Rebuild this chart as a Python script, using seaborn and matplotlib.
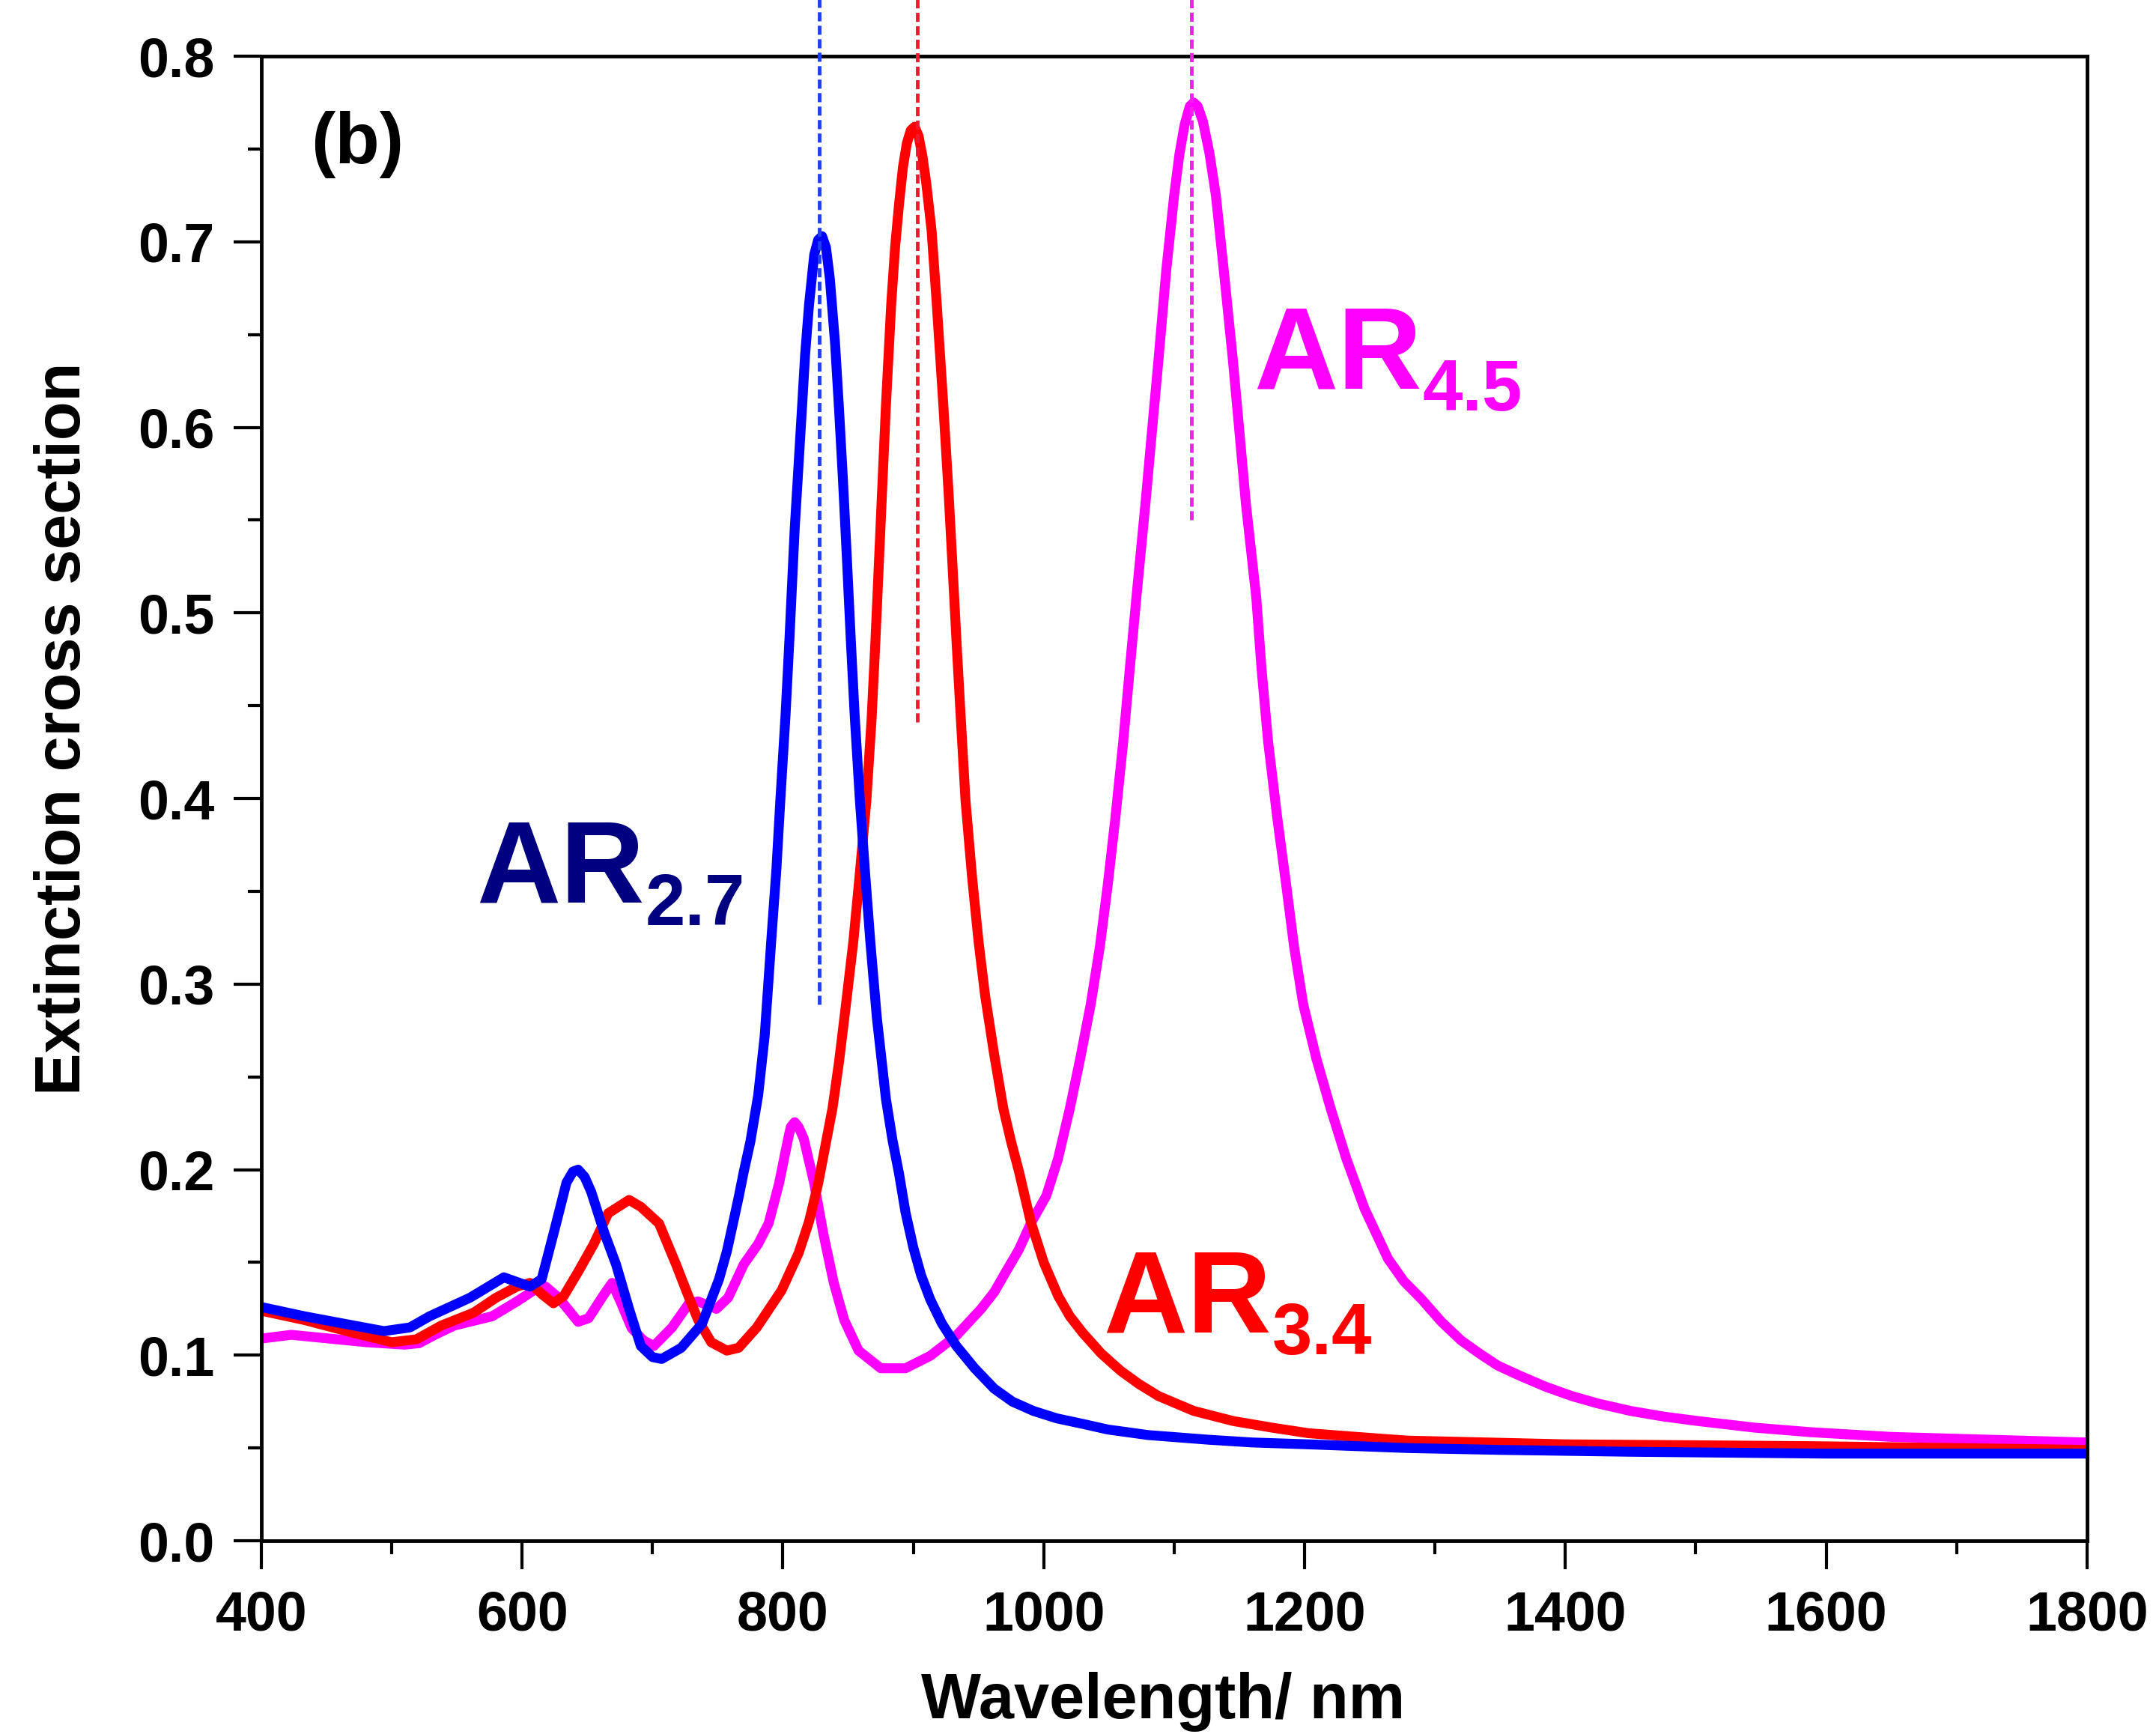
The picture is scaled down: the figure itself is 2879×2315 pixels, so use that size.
import numpy as np
import seaborn as sns
import matplotlib.pyplot as plt
from matplotlib.ticker import MultipleLocator, FormatStrFormatter

sns.set_theme(style="ticks")
plt.rcParams['font.family'] = ['Liberation Sans', 'DejaVu Sans']
plt.rcParams['font.weight'] = 'bold'
plt.rcParams['text.color'] = 'black'
plt.rcParams['axes.labelcolor'] = 'black'
plt.rcParams['xtick.color'] = 'black'
plt.rcParams['ytick.color'] = 'black'

# AR 2.7 (blue)
wl_ar27 = [400, 433, 471, 494, 514, 529, 560, 586, 606, 615, 625, 634, 639, 643, 648,
           653, 663, 672, 682, 691, 700, 707, 722, 738, 751, 757, 762, 766, 770, 775,
           781, 786, 791, 795, 798, 802, 805, 809, 812, 815, 817, 820, 824, 827, 830,
           833, 836, 840, 843, 846, 849, 852, 855, 859, 863, 867, 872, 879, 884, 889,
           894, 900, 906, 913, 922, 933, 947, 962, 976, 992, 1010, 1030, 1049, 1080,
           1126, 1160, 1203, 1279, 1350, 1450, 1600, 1800]
ext_ar27 = [0.126, 0.121, 0.116, 0.113, 0.115, 0.121, 0.131, 0.142, 0.137, 0.141, 0.168,
            0.193, 0.199, 0.200, 0.196, 0.188, 0.166, 0.149, 0.125, 0.105, 0.099, 0.098,
            0.104, 0.117, 0.141, 0.156, 0.172, 0.185, 0.199, 0.215, 0.240, 0.272, 0.323,
            0.362, 0.399, 0.445, 0.486, 0.545, 0.580, 0.615, 0.639, 0.666, 0.693, 0.701,
            0.703, 0.697, 0.680, 0.645, 0.610, 0.572, 0.530, 0.486, 0.445, 0.399, 0.360,
            0.323, 0.282, 0.238, 0.216, 0.198, 0.177, 0.158, 0.143, 0.130, 0.117, 0.105,
            0.093, 0.082, 0.075, 0.070, 0.066, 0.063, 0.060, 0.057, 0.0545, 0.053, 0.052,
            0.050, 0.049, 0.048, 0.047, 0.047]

# AR 3.4 (red)
wl_ar34 = [400, 433, 471, 500, 519, 538, 563, 580, 596, 606, 615, 624, 632, 643, 655,
           666, 682, 691, 705, 718, 728, 735, 745, 757, 766, 780, 799, 812, 820, 827,
           838, 843, 848, 854, 859, 864, 868, 871, 876, 879, 883, 886, 889, 892, 895,
           898, 901, 904, 907, 910, 914, 918, 923, 927, 930, 933, 936, 940, 945, 950,
           955, 962, 969, 975, 981, 990, 1000, 1011, 1020, 1030, 1044, 1059, 1073, 1088,
           1115, 1145, 1175, 1203, 1240, 1279, 1340, 1400, 1500, 1590, 1700, 1800]
ext_ar34 = [0.124, 0.119, 0.112, 0.107, 0.1086, 0.116, 0.123, 0.131, 0.137, 0.139, 0.133,
            0.128, 0.132, 0.145, 0.160, 0.1765, 0.1837, 0.180, 0.171, 0.149, 0.131, 0.119,
            0.107, 0.1025, 0.104, 0.115, 0.135, 0.155, 0.172, 0.1925, 0.233, 0.258, 0.287,
            0.323, 0.360, 0.399, 0.443, 0.486, 0.565, 0.612, 0.666, 0.697, 0.720, 0.740,
            0.753, 0.760, 0.762, 0.757, 0.746, 0.731, 0.706, 0.666, 0.612, 0.565, 0.526,
            0.486, 0.448, 0.399, 0.358, 0.323, 0.294, 0.262, 0.233, 0.215, 0.199, 0.172,
            0.150, 0.132, 0.121, 0.112, 0.101, 0.0916, 0.0845, 0.078, 0.070, 0.0646, 0.061,
            0.058, 0.056, 0.054, 0.053, 0.052, 0.0515, 0.051, 0.050, 0.049]

# AR 4.5 (magenta)
wl_ar45 = [400, 423, 452, 481, 510, 521, 533, 548, 577, 596, 609, 618, 628, 643, 651,
           663, 669, 676, 684, 693, 701, 715, 728, 735, 749, 758, 770, 781, 789, 797,
           804, 806, 809, 812, 816, 824, 831, 839, 847, 858, 875, 894, 913, 933, 952,
           962, 971, 981, 990, 1002, 1011, 1020, 1028, 1036, 1043, 1049, 1055, 1061, 1066,
           1071, 1078, 1083, 1088, 1094, 1100, 1104, 1108, 1112, 1115, 1118, 1122, 1127,
           1132, 1138, 1145, 1150, 1155, 1163, 1167, 1172, 1179, 1186, 1192, 1199, 1209,
           1220, 1232, 1246, 1264, 1276, 1290, 1305, 1320, 1334, 1348, 1365, 1385, 1405,
           1425, 1450, 1475, 1501, 1545, 1589, 1650, 1700, 1750, 1800]
ext_ar45 = [0.109, 0.111, 0.109, 0.107, 0.1057, 0.1065, 0.111, 0.116, 0.121, 0.129, 0.135,
            0.137, 0.131, 0.118, 0.120, 0.133, 0.139, 0.128, 0.1146, 0.108, 0.105, 0.115,
            0.128, 0.129, 0.125, 0.131, 0.149, 0.160, 0.171, 0.1925, 0.2167, 0.223, 0.2256,
            0.223, 0.2167, 0.1925, 0.1655, 0.139, 0.119, 0.1025, 0.093, 0.093, 0.0997,
            0.1106, 0.125, 0.134, 0.145, 0.157, 0.171, 0.186, 0.206, 0.233, 0.260, 0.289,
            0.320, 0.353, 0.390, 0.431, 0.470, 0.508, 0.559, 0.598, 0.6365, 0.685, 0.725,
            0.747, 0.763, 0.773, 0.775, 0.773, 0.765, 0.748, 0.725, 0.685, 0.6365, 0.598,
            0.559, 0.508, 0.470, 0.431, 0.390, 0.353, 0.320, 0.289, 0.260, 0.233, 0.206,
            0.179, 0.152, 0.140, 0.130, 0.118, 0.108, 0.101, 0.0945, 0.089, 0.083, 0.078,
            0.074, 0.070, 0.067, 0.0646, 0.061, 0.0585, 0.056, 0.055, 0.054, 0.053]

# dashed peak markers
peak_wl = [828, 903, 1113]
peak_low = [0.289, 0.441, 0.550]

fig = plt.figure(figsize=(28.79, 23.15), dpi=100)
ax = fig.add_axes([0.1212, 0.1114, 0.8468, 0.8562])

sns.lineplot(x=wl_ar45, y=ext_ar45, color='#FF00FF', linewidth=9.5, ax=ax)
sns.lineplot(x=wl_ar34, y=ext_ar34, color='#FF0000', linewidth=9.5, ax=ax)
sns.lineplot(x=wl_ar27, y=ext_ar27, color='#0000FF', linewidth=9.5, ax=ax)

for xp, yl, c in zip(peak_wl, peak_low, ['#1E40F0', '#F01830', '#F020F0']):
    ax.vlines(xp, yl, 0.832, colors=c, linewidth=3.5, linestyles=(0, (2.5, 1.2)),
              clip_on=False, zorder=5)

ax.set_xlim(400, 1800)
ax.set_ylim(0, 0.8)
ax.xaxis.set_major_locator(MultipleLocator(200))
ax.xaxis.set_minor_locator(MultipleLocator(100))
ax.yaxis.set_major_locator(MultipleLocator(0.1))
ax.yaxis.set_minor_locator(MultipleLocator(0.05))
ax.yaxis.set_major_formatter(FormatStrFormatter('%.1f'))

for s in ax.spines.values():
    s.set_color('black')
    s.set_linewidth(3.5)
ax.tick_params(which='both', direction='out', color='black', width=3, top=False, right=False)
ax.tick_params(which='major', length=27, labelsize=53, labelcolor='black')
ax.tick_params(which='minor', length=13)
ax.tick_params(axis='x', which='major', pad=20)
ax.tick_params(axis='y', which='major', pad=18)
for lab in ax.get_xticklabels() + ax.get_yticklabels():
    lab.set_fontweight('bold')

ax.set_xlabel('Wavelength/ nm', fontsize=61, fontweight='bold', color='black')
ax.set_ylabel('Extinction cross section', fontsize=61, fontweight='bold', color='black')
ax.xaxis.set_label_coords(0.494, -0.088)
ax.yaxis.set_label_coords(-0.092, 0.547)

ax.text(0.027, 0.963, '(b)', transform=ax.transAxes, fontsize=70, fontweight='bold',
        va='top', ha='left', color='black')

labels = [('2.7', 564.8, 0.344, '#000080'), ('3.4', 1045.4, 0.1126, '#FF0000'),
          ('4.5', 1160.9, 0.6212, '#FF00FF')]
for sub, xl, yl, c in labels:
    t = ax.text(xl, yl, 'AR', fontsize=112, fontweight='bold', color=c, va='baseline')
    ax.annotate(sub, xy=(1, 0), xycoords=t, xytext=(1, 1.5), textcoords='offset points',
                fontsize=69, fontweight='bold', color=c, va='baseline', ha='left')

fig.savefig('out.png', dpi=100)
